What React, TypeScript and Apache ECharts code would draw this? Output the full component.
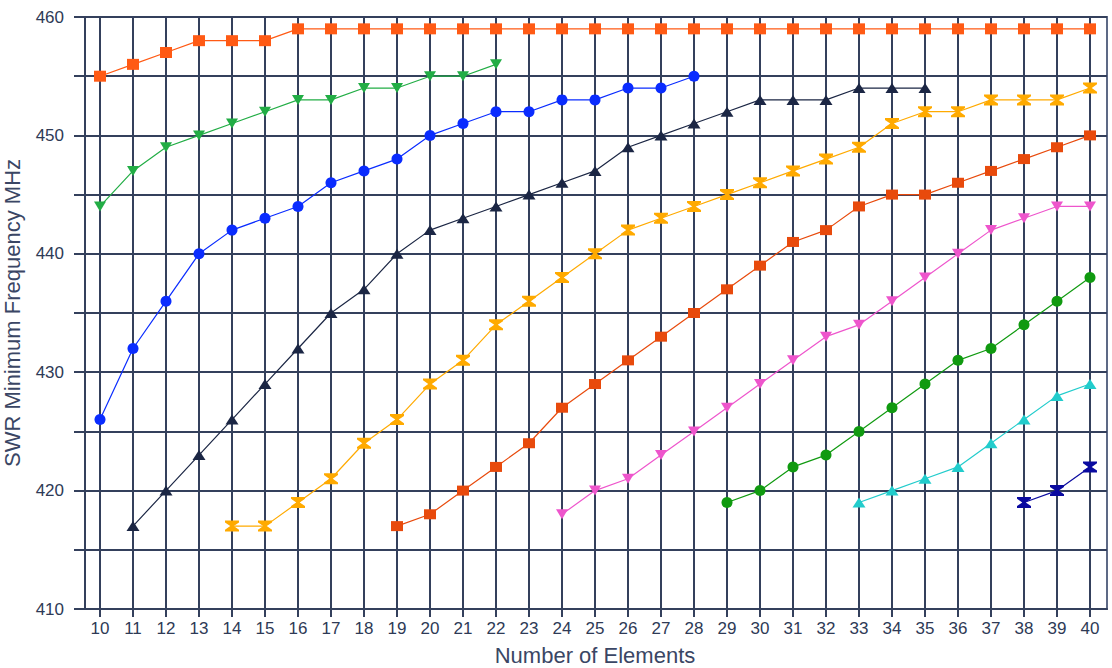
import React, { useEffect, useRef } from "react";
import * as echarts from "echarts";

const elements: number[] = Array.from({ length: 31 }, (_, i) => 10 + i);
const yTicks: number[] = [410, 420, 430, 440, 450, 460];

// each series: first element count, then SWR minimum frequency values
const s1Start = 10;
const s1 = [455, 456, 457, 458, 458, 458, 459, 459, 459, 459, 459, 459, 459, 459, 459, 459, 459, 459, 459, 459, 459, 459, 459, 459, 459, 459, 459, 459, 459, 459, 459];
const s2Start = 10;
const s2 = [444, 447, 449, 450, 451, 452, 453, 453, 454, 454, 455, 455, 456];
const s3Start = 10;
const s3 = [426, 432, 436, 440, 442, 443, 444, 446, 447, 448, 450, 451, 452, 452, 453, 453, 454, 454, 455];
const s4Start = 11;
const s4 = [417, 420, 423, 426, 429, 432, 435, 437, 440, 442, 443, 444, 445, 446, 447, 449, 450, 451, 452, 453, 453, 453, 454, 454, 454];
const s5Start = 14;
const s5 = [417, 417, 419, 421, 424, 426, 429, 431, 434, 436, 438, 440, 442, 443, 444, 445, 446, 447, 448, 449, 451, 452, 452, 453, 453, 453, 454];
const s6Start = 19;
const s6 = [417, 418, 420, 422, 424, 427, 429, 431, 433, 435, 437, 439, 441, 442, 444, 445, 445, 446, 447, 448, 449, 450];
const s7Start = 24;
const s7 = [418, 420, 421, 423, 425, 427, 429, 431, 433, 434, 436, 438, 440, 442, 443, 444, 444];
const s8Start = 29;
const s8 = [419, 420, 422, 423, 425, 427, 429, 431, 432, 434, 436, 438];
const s9Start = 33;
const s9 = [419, 420, 421, 422, 424, 426, 428, 429];
const s10Start = 38;
const s10 = [419, 420, 422];

const hourglass = "path://M0,0 L12,0 L12,2 L7.5,6 L12,10 L12,12 L0,12 L0,10 L4.5,6 L0,2 Z";

const GRID = "#34405c";
const TEXT = "#2e3a56";

function pairs(start: number, vals: number[]) {
  return vals.map((v, i) => [start + i, v]);
}

function mk(name: string, start: number, vals: number[], color: string, symbol: string, size: any, rotate?: number) {
  const s: any = {
    name,
    type: "line",
    xAxisIndex: 1,
    yAxisIndex: 1,
    data: pairs(start, vals),
    symbol,
    symbolSize: size,
    showAllSymbol: true,
    lineStyle: { color, width: 1.2 },
    itemStyle: { color, borderColor: color, borderWidth: 0 },
    z: 5,
  };
  if (rotate) s.symbolRotate = rotate;
  return s;
}

export default function App() {
  const ref = useRef<HTMLDivElement>(null);
  useEffect(() => {
    if (!ref.current) return;
    const chart = echarts.init(ref.current, null, { renderer: "svg" });
    chart.setOption({
      animation: false,
      backgroundColor: "#ffffff",
      textStyle: { fontFamily: "Liberation Sans, Arial, sans-serif" },
      grid: [
        { left: 85, right: 5, top: 17, bottom: 59, show: true, borderColor: "#5d6985", borderWidth: 2, containLabel: false, outerBoundsMode: "none" },
        { left: 100, right: 22, top: 17, bottom: 59, containLabel: false, outerBoundsMode: "none" },
      ],
      xAxis: [
        {
          type: "value",
          gridIndex: 0,
          min: 0,
          max: 1,
          axisLine: { show: true, lineStyle: { color: GRID, width: 2 } },
          axisTick: { show: false },
          axisLabel: { show: false },
          splitLine: { show: false },
        },
        {
          type: "value",
          gridIndex: 1,
          min: elements[0],
          max: elements[elements.length - 1],
          interval: 1,
          axisLine: { show: false },
          axisTick: { show: true, length: 8, lineStyle: { color: GRID, width: 2 } },
          axisLabel: { color: TEXT, fontSize: 17, margin: 11 },
          splitLine: { show: true, lineStyle: { color: GRID, width: 2 } },
          name: "Number of Elements",
          nameLocation: "middle",
          nameGap: 35,
          nameTextStyle: { color: "#3a4664", fontSize: 22 },
        },
      ],
      yAxis: [
        {
          type: "value",
          gridIndex: 0,
          min: 410,
          max: 460,
          interval: 5,
          axisLine: { show: true, lineStyle: { color: GRID, width: 2 } },
          axisTick: { show: true, length: 11, lineStyle: { color: GRID, width: 2 } },
          axisLabel: {
            color: TEXT,
            fontSize: 17,
            margin: 21,
            formatter: (v: number) => (yTicks.indexOf(v) >= 0 ? String(v) : ""),
          },
          splitLine: { show: true, lineStyle: { color: GRID, width: 2 } },
          name: "SWR Minimum Frequency MHz",
          nameLocation: "middle",
          nameGap: 62,
          nameTextStyle: { color: "#3a4664", fontSize: 22 },
        },
        {
          type: "value",
          gridIndex: 1,
          min: 410,
          max: 460,
          show: false,
          splitLine: { show: false },
        },
      ],
      series: [
        mk("s1", s1Start, s1, "#ff5a14", "rect", [12, 11]),
        mk("s2", s2Start, s2, "#22ad45", "triangle", [12, 10], 180),
        mk("s3", s3Start, s3, "#0a2cff", "circle", 11),
        mk("s4", s4Start, s4, "#1b2644", "triangle", [13, 10]),
        mk("s5", s5Start, s5, "#ffaa00", hourglass, [14, 11]),
        mk("s6", s6Start, s6, "#e84a0c", "rect", [12, 10]),
        mk("s7", s7Start, s7, "#ee55cc", "triangle", [12, 10], 180),
        mk("s8", s8Start, s8, "#109a10", "circle", 11),
        mk("s9", s9Start, s9, "#22cccc", "triangle", [13, 10]),
        mk("s10", s10Start, s10, "#0a0aa0", hourglass, [14, 11]),
      ],
    });
    return () => chart.dispose();
  }, []);
  return (
    <div
      ref={ref}
      style={{ position: "fixed", left: 0, top: 0, width: 1112, height: 668, background: "#fff" }}
    />
  );
}
